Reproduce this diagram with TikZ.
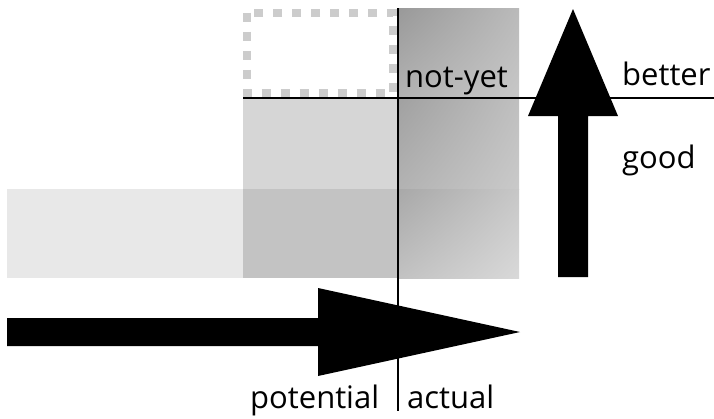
\documentclass[tikz,border=0pt]{standalone}
\usepackage{fontspec}
\setmainfont{Open Sans}
\usetikzlibrary{calc,shadings}
\tikzstyle{lbl}=[inner sep=0pt, anchor=base west,
    font=\fontsize{31}{34}\selectfont]
\tikzstyle{rule}=[line width=1.6pt, black]
\tikzstyle{bigarrow}=[fill=black]
\tikzstyle{slot}=[draw=black!20, line width=8pt,
    dash pattern=on 9pt off 10pt]
\tikzstyle{panel}=[fill=black]

\begin{document}
\begin{tikzpicture}[x=1pt,y=-1pt]
    \useasboundingbox (0,0) rectangle (714,418);
    % grey panels
    \fill[panel, opacity=.09] (7,189) rectangle (398,278);
    \fill[panel, opacity=.16] (243,98) rectangle (398,278);
    \shade[upper left=black!40, upper right=black!27,
        lower left=black!30, lower right=black!22] (398,8) rectangle (519,98);
    \shade[upper left=black!37, upper right=black!25,
        lower left=black!30, lower right=black!21] (398,98) rectangle (519,189);
    \shade[upper left=black!34, upper right=black!22,
        lower left=black!24, lower right=black!15] (398,189) rectangle (519,278);
    \draw[slot] (247,12.5) rectangle (393,93);
    % arrows
    \fill[bigarrow] (7,318) -- (318,318) -- (318,288) -- (520,332)
        -- (318,376) -- (318,346) -- (7,346) -- cycle;
    \fill[bigarrow] (558,277) -- (558,116) -- (528,116) -- (573,9)
        -- (618,116) -- (588,116) -- (588,277) -- cycle;
    % rules
    \coordinate (divtop) at (398,8);
    \coordinate (divbot) at (398,411);
    \coordinate (barl) at (243,98);
    \coordinate (barr) at (714,98);
    \draw[rule] (divtop) -- (divbot);
    \draw[rule] (barl) -- (barr);
    % labels
    \node[lbl] (notyet) at (405,87) {not-yet};
    \node[lbl] (better) at (622,85) {better};
    \node[lbl] (good) at (622,168) {good};
    \node[lbl] (potential) at (250,408) {potential};
    \node[lbl] (actual) at (407,408) {actual};
\end{tikzpicture}
\end{document}
